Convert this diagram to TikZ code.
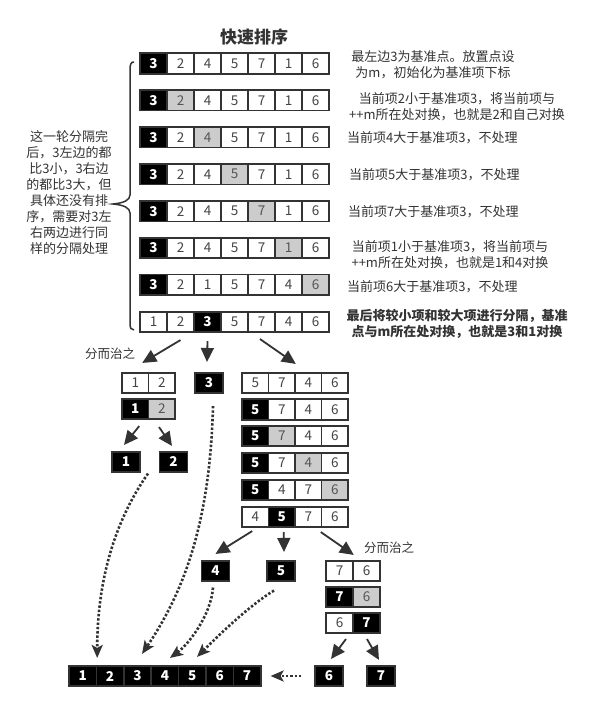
\documentclass[tikz,border=0pt]{standalone}
\usepackage{fontspec}
\setmainfont{Noto Sans CJK SC}
\usetikzlibrary{arrows.meta,calc}
\definecolor{cb}{HTML}{333333}
\definecolor{ct}{HTML}{444444}
\definecolor{cg}{HTML}{CCCCCC}
\definecolor{cgt}{HTML}{555555}
\newcommand\cellrow[5]{%
  \foreach [count=\i] \s/\v in {#5} {
    \node[\s, minimum width=#4pt] (#1-\i) at ({#2+(\i-1)*#4},#3) {\v};
  }%
}
\begin{document}
\begin{tikzpicture}[x=1pt,y=-1pt,
  cell/.style={draw=cb, line width=1.6pt, minimum height=20.5pt, inner sep=0pt,
    font=\fontsize{13.5}{14}\selectfont},
  wc/.style={cell, fill=white, text=ct},
  bc/.style={cell, fill=black, text=white, font=\fontsize{13.5}{14}\selectfont\bfseries},
  gc/.style={cell, fill=cg, text=cgt},
  note/.style={inner sep=0pt, text=cb, align=center, font=\fontsize{13}{16}\selectfont},
  boldnote/.style={note, font=\fontsize{13}{16}\selectfont\bfseries},
  arr/.style={draw=cb, line width=1.8pt, -{Triangle[length=14pt,width=13pt]}},
  dotarr/.style={draw=cb, line width=2.6pt, dash pattern=on 2.4pt off 1.9pt,
    -{Stealth[length=13pt,width=11pt,inset=3pt]}},
  bracestyle/.style={draw=cb, line width=1.5pt}
]
\fill[white] (0,0) rectangle (595,711);
\useasboundingbox (0,0) rectangle (595,711);

\node[inner sep=0pt, text=cb, font=\fontsize{17}{18}\selectfont\bfseries] (title) at (254,37) {快速排序};

% top rows
\cellrow{r1}{153.5}{63.5}{27}{bc/3,wc/2,wc/4,wc/5,wc/7,wc/1,wc/6}
\cellrow{r2}{153.5}{100.4}{27}{bc/3,gc/2,wc/4,wc/5,wc/7,wc/1,wc/6}
\cellrow{r3}{153.5}{137.3}{27}{bc/3,wc/2,gc/4,wc/5,wc/7,wc/1,wc/6}
\cellrow{r4}{153.5}{174.2}{27}{bc/3,wc/2,wc/4,gc/5,wc/7,wc/1,wc/6}
\cellrow{r5}{153.5}{211.1}{27}{bc/3,wc/2,wc/4,wc/5,gc/7,wc/1,wc/6}
\cellrow{r6}{153.5}{248}{27}{bc/3,wc/2,wc/4,wc/5,wc/7,gc/1,wc/6}
\cellrow{r7}{153.5}{284.9}{27}{bc/3,wc/2,wc/1,wc/5,wc/7,wc/4,gc/6}
\cellrow{r8}{153.5}{322}{27}{wc/1,wc/2,bc/3,wc/5,wc/7,wc/4,wc/6}

% right notes
\node[note] (t1) at (433,65) {最左边3为基准点。放置点设\\为m，初始化为基准项下标};
\node[note] (t2) at (457,106.5) {当前项2小于基准项3，将当前项与\\++m所在处对换，也就是2和自己对换};
\node[note, anchor=west] (t3) at (347,138) {当前项4大于基准项3，不处理};
\node[note, anchor=west] (t4) at (349,175) {当前项5大于基准项3，不处理};
\node[note, anchor=west] (t5) at (348,212) {当前项7大于基准项3，不处理};
\node[note] (t6) at (450,255) {当前项1小于基准项3，将当前项与\\++m所在处对换，也就是1和4对换};
\node[note, anchor=west] (t7) at (347,287) {当前项6大于基准项3，不处理};
\node[boldnote] (t8) at (457,324) {最后将较小项和较大项进行分隔，基准\\点与m所在处对换，也就是3和1对换};

% left note and brace
\node[note] (lt) at (69,193) {这一轮分隔完\\后，3左边的都\\比3小，3右边\\的都比3大，但\\具体还没有排\\序，需要对3左\\右两边进行同\\样的分隔处理};
\draw[bracestyle] (134,62) .. controls (131,62) and (130,64) .. (130,70) -- (130,195)
  .. controls (130,200) and (124,203) .. (113,204)
  .. controls (124,205) and (130,208) .. (130,213) -- (130,323)
  .. controls (130,328) and (131,330) .. (134,330);

% level 2
\node[note, font=\fontsize{12.5}{14}\selectfont] (dc1) at (110,354) {分而治之};
\cellrow{a1}{135.25}{383}{26.5}{wc/1,wc/2}
\cellrow{a2}{135.25}{409}{26.5}{bc/1,gc/2}
\cellrow{b}{209}{383}{28}{bc/3}
\cellrow{c1}{255.25}{383}{26.5}{wc/5,wc/7,wc/4,wc/6}
\cellrow{c2}{255.25}{409.5}{26.5}{bc/5,wc/7,wc/4,wc/6}
\cellrow{c3}{255.25}{436}{26.5}{bc/5,gc/7,wc/4,wc/6}
\cellrow{c4}{255.25}{463}{26.5}{bc/5,wc/7,gc/4,wc/6}
\cellrow{c5}{255.25}{490}{26.5}{bc/5,wc/4,wc/7,gc/6}
\cellrow{c6}{255.25}{517}{26.5}{wc/4,bc/5,wc/7,wc/6}
\cellrow{na}{126}{462}{28}{bc/1}
\cellrow{nb}{173.5}{462}{28}{bc/2}

% level 3
\node[note, font=\fontsize{12.5}{14}\selectfont] (dc2) at (389,548) {分而治之};
\cellrow{n4}{215.5}{571}{28}{bc/4}
\cellrow{n5}{281}{571}{28}{bc/5}
\cellrow{d1}{339.5}{571}{27}{wc/7,wc/6}
\cellrow{d2}{339.5}{597}{27}{bc/7,gc/6}
\cellrow{d3}{339.5}{623}{27}{wc/6,bc/7}
\cellrow{n6}{329}{676}{28}{bc/6}
\cellrow{n7}{381}{676}{28}{bc/7}

% final row
\cellrow{f}{82.7}{676}{27.4}{bc/1,bc/2,bc/3,bc/4,bc/5,bc/6,bc/7}

% solid arrows
\draw[arr] ($(r8-2.south)+(0,7)$) -- ($(a1-1.north)+(7,-9)$);
\draw[arr] ($(r8-3.south)+(0,8)$) -- ($(b-1.north)+(-2,-10)$);
\draw[arr] ($(r8-5.south)+(-1.5,6)$) -- ($(c1-2.north east)+(0,-8)$);
\draw[arr] ($(a2-1.south)+(4,6)$) -- ($(na-1.north)+(-2,-6)$);
\draw[arr] ($(a2-2.south)+(-2.75,7)$) -- ($(nb-1.north)+(-1.5,-5)$);
\draw[arr] ($(c6-1.south)+(-3,3)$) -- ($(n4-1.north)+(0,-6)$);
\draw[arr] ($(c6-2.south)+(2,4)$) -- ($(n5-1.north)+(3,-8)$);
\draw[arr] ($(c6-3.south east)+(-1.5,4)$) -- ($(d1-1.north east)+(0,-5)$);
\draw[arr] ($(d3-1.south)+(6.5,5)$) -- ($(n6-1.north)+(2,-6)$);
\draw[arr] ($(d3-2.south)+(0.5,5)$) -- ($(n7-1.north)+(-2,-5)$);

% dotted arrows
\draw[dotarr] ($(nb-1.south)+(-25.5,0.5)$) .. controls +(-33,47) and +(0,-78) .. ($(f-1.north east)+(0,-7)$);
\draw[dotarr] ($(b-1.south)+(4,12)$) .. controls +(-3,115) and +(43,-64) .. ($(f-3.north)+(4.5,-11)$);
\draw[dotarr] ($(n4-1.south)+(-2.5,5.5)$) .. controls +(-2,28) and +(18,-13) .. ($(f-4.north)+(5,-7)$);
\draw[dotarr] ($(n5-1.south)+(-7,8.5)$) .. controls +(-25,15) and +(20,-20) .. ($(f-5.north)+(4.7,-8)$);
\draw[dotarr] ($(n6-1.west)+(-13,0)$) -- ($(f-7.east)+(9,0)$);
\end{tikzpicture}
\end{document}
